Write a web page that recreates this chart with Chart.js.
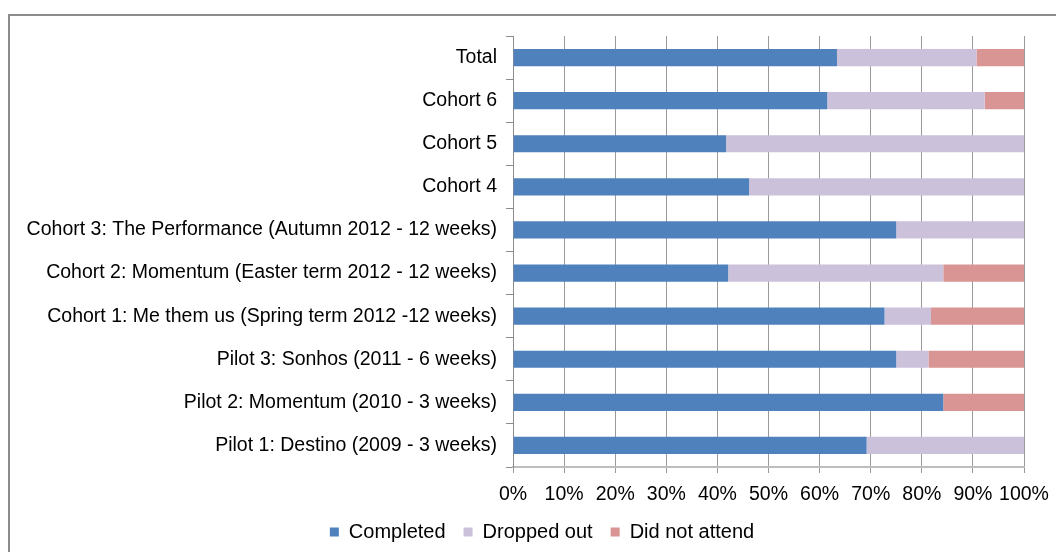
<!DOCTYPE html>
<html>
<head>
<meta charset="utf-8">
<script src="https://cdn.jsdelivr.net/npm/chart.js@4/dist/chart.umd.min.js"></script>
<style>
    body { margin: 0; background: #fff; overflow: hidden; }
    #cadre { position: absolute; left: 8px; top: 14px; width: 1200px; height: 700px; border-left: 2px solid #8c8c8c; border-top: 2px solid #8c8c8c; }
    #zone { position: absolute; left: 0; top: 0; width: 1056px; height: 552px; }
</style>
</head>
<body>
<div id="cadre"></div>
<div id="zone"><canvas id="parcours"></canvas></div>
<script>
const groupes = [
    'Total',
    'Cohort 6',
    'Cohort 5',
    'Cohort 4',
    'Cohort 3: The Performance (Autumn 2012 - 12 weeks)',
    'Cohort 2: Momentum (Easter term 2012 - 12 weeks)',
    'Cohort 1: Me them us (Spring term 2012 -12 weeks)',
    'Pilot 3: Sonhos (2011 - 6 weeks)',
    'Pilot 2: Momentum (2010 - 3 weeks)',
    'Pilot 1: Destino (2009 - 3 weeks)'
];
const termine = [63.4, 61.5, 41.7, 46.2, 75.0, 42.1, 72.7, 75.0, 84.2, 69.2];
const abandon = [27.3, 30.8, 58.3, 53.8, 25.0, 42.1, 9.1, 6.3, 0, 30.8];
const absent = [9.3, 7.7, 0, 0, 0, 15.8, 18.2, 18.7, 15.8, 0];
const graduations = [0, 10, 20, 30, 40, 50, 60, 70, 80, 90, 100];

Chart.defaults.font.family = "'Liberation Sans', Arial, sans-serif";
Chart.defaults.font.size = 19.5;
Chart.defaults.color = '#000';

const ctx = document.getElementById('parcours');

// la légende est centrée plus à droite : on décale la zone à gauche,
// puis on rend toute la largeur à l'axe y pour ne pas couper les libellés
const axeYPleineLargeur = {
    id: 'axeYPleineLargeur',
    afterLayout(chart) {
        chart.scales.y.left = 0;
    }
};

new Chart(ctx, {
    type: 'bar',
    data: {
        labels: groupes,
        datasets: [
            { label: 'Completed', data: termine, backgroundColor: '#4f81bd' },
            { label: 'Dropped out', data: abandon, backgroundColor: '#ccc1da' },
            { label: 'Did not attend', data: absent, backgroundColor: '#d99594' }
        ]
    },
    options: {
        indexAxis: 'y',
        responsive: true,
        maintainAspectRatio: false,
        animation: false,
        datasets: {
            bar: { barPercentage: 0.4, categoryPercentage: 1 }
        },
        layout: {
            padding: { top: 36, right: 32, bottom: 0, left: 60 }
        },
        scales: {
            x: {
                stacked: true,
                min: 0,
                max: 100,
                afterBuildTicks: (axe) => { axe.ticks = graduations.map(v => ({ value: v })); },
                afterFit: (axe) => {
                    axe.height = 37;
                    axe.paddingLeft = 0;
                    axe.paddingRight = 0;
                },
                ticks: {
                    padding: 10,
                    autoSkip: false,
                    maxRotation: 0,
                    callback: (v) => v + '%'
                },
                grid: { color: '#9a9a9a', tickLength: 6 },
                border: { color: '#bdbdbd', width: 2 }
            },
            y: {
                stacked: true,
                afterFit: (axe) => { axe.width = 453; },
                ticks: { padding: 9 },
                grid: { offset: true, drawOnChartArea: false, tickLength: 7, color: '#8c8c8c' },
                border: { color: '#8c8c8c' }
            }
        },
        plugins: {
            legend: {
                position: 'bottom',
                labels: { boxWidth: 9, boxHeight: 9, padding: 18, font: { size: 20 } }
            },
            tooltip: { enabled: false }
        }
    },
    plugins: [axeYPleineLargeur]
});
</script>
</body>
</html>
